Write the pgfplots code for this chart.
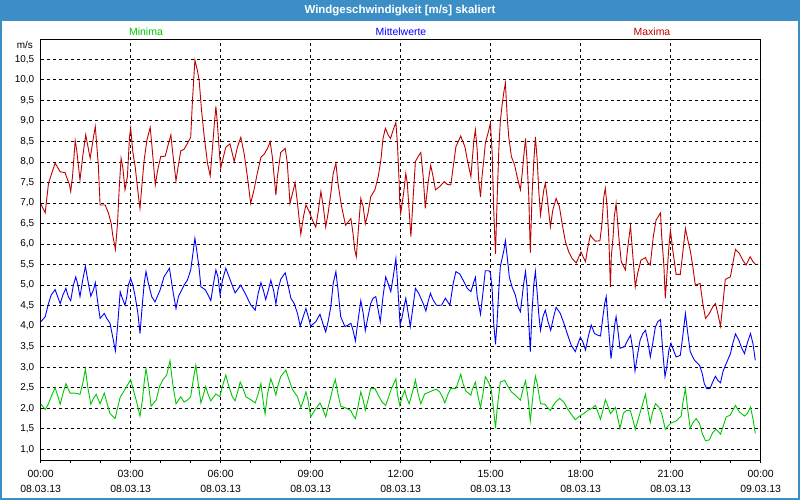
\documentclass[border=0pt]{standalone}
\usepackage{pgfplots}
\usepackage{pgfplotstable}
\pgfplotsset{compat=1.18}
\usepackage{fontspec}
\setmainfont{Liberation Sans}
\definecolor{titleblue}{RGB}{60,143,198}
\definecolor{mingreen}{RGB}{0,200,0}
\definecolor{meanblue}{RGB}{0,0,255}
\definecolor{maxred}{RGB}{192,0,0}

\pgfplotstableread{
h v
0.01 6.97
0.15 6.76
0.26 7.48
0.35 7.68
0.48 7.97
0.65 7.76
0.81 7.74
0.96 7.44
1.00 7.28
1.06 7.64
1.15 8.52
1.20 8.29
1.31 7.56
1.40 8.13
1.50 8.66
1.65 8.09
1.76 8.61
1.82 8.86
1.92 7.93
1.98 6.95
2.15 6.95
2.26 6.75
2.35 6.50
2.40 6.22
2.49 5.87
2.56 6.50
2.62 7.40
2.68 8.09
2.74 7.85
2.81 7.32
2.85 7.48
2.89 7.64
2.96 8.61
3.00 8.82
3.07 8.25
3.15 7.88
3.26 7.15
3.31 6.87
3.37 7.40
3.45 8.05
3.54 8.53
3.65 8.84
3.71 8.37
3.82 7.44
3.90 7.80
4.00 8.13
4.15 8.14
4.26 8.45
4.34 8.66
4.39 8.29
4.51 7.54
4.58 7.88
4.67 8.27
4.78 8.31
4.89 8.45
5.00 8.60
5.06 9.51
5.14 10.48
5.22 10.24
5.28 10.00
5.36 9.27
5.45 8.62
5.56 7.97
5.65 7.66
5.72 8.29
5.78 8.86
5.84 9.35
5.89 8.94
5.95 8.29
6.00 7.85
6.08 8.09
6.17 8.36
6.31 8.44
6.45 8.01
6.56 8.37
6.67 8.60
6.78 8.21
6.89 7.64
7.00 6.99
7.11 7.32
7.22 7.72
7.34 8.11
7.45 8.19
7.56 8.33
7.65 8.49
7.72 8.13
7.84 7.19
7.89 7.64
8.00 8.23
8.15 8.33
8.22 7.97
8.31 6.99
8.39 7.23
8.48 7.49
8.56 6.99
8.67 6.24
8.76 6.67
8.84 6.95
8.95 6.79
9.06 6.58
9.17 6.41
9.25 6.79
9.34 7.28
9.42 6.91
9.50 6.42
9.58 6.75
9.67 7.23
9.75 7.72
9.84 7.97
9.91 7.48
10.02 6.95
10.16 6.46
10.25 6.54
10.34 6.62
10.41 6.26
10.47 5.85
10.52 5.69
10.60 6.46
10.67 7.11
10.75 6.91
10.82 6.49
10.91 6.75
11.00 7.15
11.14 7.32
11.25 7.64
11.34 8.05
11.41 8.57
11.49 8.82
11.58 8.66
11.66 8.57
11.75 8.78
11.84 8.96
11.89 8.45
11.95 7.48
11.97 6.99
12.00 6.75
12.05 6.99
12.11 7.32
12.17 7.72
12.22 7.48
12.28 6.83
12.34 6.18
12.41 7.07
12.49 8.01
12.58 8.13
12.67 8.23
12.75 7.64
12.82 6.87
12.91 7.48
13.00 7.92
13.08 7.64
13.16 7.32
13.30 7.40
13.45 7.52
13.56 7.45
13.67 7.44
13.75 7.88
13.84 8.37
14.00 8.63
14.14 8.37
14.22 8.05
14.34 7.64
14.38 8.01
14.44 8.53
14.49 8.78
14.55 8.29
14.60 7.56
14.66 7.15
14.71 7.64
14.77 8.05
14.82 8.45
14.91 8.70
14.99 8.94
15.05 8.21
15.10 6.83
15.16 5.76
15.21 6.99
15.27 8.29
15.32 8.98
15.38 9.39
15.44 9.71
15.49 9.92
15.55 9.10
15.60 8.62
15.69 8.13
15.80 7.92
15.88 7.64
15.99 7.32
16.05 7.72
16.10 8.13
16.16 8.57
16.21 8.05
16.27 7.15
16.32 5.79
16.38 7.23
16.44 8.05
16.49 8.61
16.55 8.05
16.60 7.32
16.66 6.71
16.71 6.99
16.77 7.32
16.82 7.48
16.88 7.15
16.99 6.42
17.07 6.83
17.18 7.11
17.29 6.91
17.38 6.50
17.49 6.06
17.60 5.81
17.71 5.65
17.85 5.54
17.94 5.69
18.01 5.81
18.08 5.69
18.16 5.57
18.22 5.85
18.32 6.22
18.40 6.14
18.49 6.07
18.64 6.08
18.71 6.50
18.77 7.15
18.82 7.36
18.88 6.91
18.94 6.10
18.99 4.96
19.02 5.69
19.08 6.18
19.12 6.67
19.18 6.99
19.27 6.18
19.35 5.57
19.49 5.37
19.57 5.93
19.66 6.44
19.74 5.69
19.82 4.96
19.90 5.29
20.01 5.61
20.16 5.67
20.24 5.54
20.32 5.49
20.42 6.18
20.51 6.58
20.66 6.76
20.70 6.18
20.77 5.51
20.82 4.68
20.87 5.21
20.94 5.93
20.99 6.34
21.07 5.85
21.18 5.26
21.32 5.26
21.40 5.77
21.49 6.38
21.57 6.10
21.65 5.85
21.74 5.44
21.82 5.00
21.98 5.04
22.07 4.55
22.16 4.19
22.29 4.31
22.40 4.47
22.49 4.55
22.57 4.31
22.66 4.00
22.74 4.55
22.82 5.14
22.99 5.20
23.07 5.53
23.16 5.87
23.29 5.77
23.40 5.61
23.51 5.49
23.65 5.69
23.74 5.57
23.82 5.51
}\maxtable

\pgfplotstableread{
h v
0.01 4.11
0.15 4.23
0.26 4.55
0.35 4.76
0.48 4.89
0.65 4.55
0.74 4.76
0.84 4.92
0.92 4.72
1.00 4.62
1.09 5.00
1.17 5.20
1.24 5.00
1.31 4.72
1.40 5.12
1.49 5.46
1.57 5.12
1.67 4.73
1.76 4.89
1.82 5.06
1.89 4.64
1.98 4.19
2.12 4.31
2.20 4.19
2.31 4.07
2.40 3.74
2.49 3.40
2.56 3.98
2.65 4.84
2.70 4.72
2.81 4.51
2.87 4.72
2.92 5.00
3.00 5.16
3.07 5.00
3.15 4.72
3.24 4.31
3.31 3.82
3.39 4.55
3.45 5.04
3.51 5.33
3.59 5.04
3.70 4.72
3.81 4.59
3.98 4.88
4.11 5.20
4.29 5.41
4.42 4.80
4.51 4.43
4.59 4.72
4.70 4.88
4.78 5.00
4.89 5.12
5.00 5.37
5.06 5.69
5.14 6.14
5.20 5.85
5.28 5.41
5.34 4.96
5.48 4.89
5.58 4.76
5.67 4.62
5.76 5.04
5.84 5.37
5.91 5.20
5.98 4.76
6.06 5.12
6.17 5.41
6.34 5.08
6.48 4.81
6.67 5.00
6.84 4.76
7.00 4.52
7.15 4.39
7.25 4.80
7.34 5.06
7.42 4.88
7.50 4.65
7.59 4.88
7.67 5.12
7.76 4.88
7.84 4.54
7.91 4.88
8.00 5.14
8.15 5.30
8.22 5.08
8.34 4.68
8.45 4.55
8.56 4.31
8.65 4.00
8.75 4.23
8.84 4.43
8.92 4.23
9.00 4.00
9.17 4.11
9.31 4.29
9.42 4.03
9.50 3.86
9.58 4.11
9.67 4.47
9.75 5.04
9.84 5.33
9.91 4.88
10.00 4.23
10.14 3.99
10.25 4.03
10.34 4.07
10.41 3.90
10.49 3.64
10.58 4.15
10.67 4.62
10.75 4.31
10.82 3.89
10.91 4.23
11.00 4.55
11.08 4.68
11.17 4.72
11.25 4.39
11.32 4.11
11.41 4.72
11.50 5.20
11.58 5.04
11.67 4.84
11.75 5.20
11.84 5.65
11.89 5.12
11.95 4.39
11.98 4.03
12.05 4.23
12.11 4.47
12.17 4.68
12.25 4.31
12.32 3.99
12.41 4.47
12.49 4.92
12.60 4.80
12.75 4.55
12.84 4.37
12.91 4.59
12.99 4.80
13.08 4.64
13.19 4.51
13.36 4.51
13.49 4.68
13.64 4.51
13.75 5.04
13.84 5.33
13.97 5.27
14.08 5.12
14.22 4.92
14.34 4.84
14.44 5.08
14.49 5.19
14.55 4.72
14.66 4.29
14.74 4.80
14.82 5.35
14.94 5.35
14.99 5.30
15.05 4.88
15.10 4.07
15.16 3.56
15.21 4.07
15.27 4.88
15.32 5.45
15.44 5.85
15.49 6.08
15.55 5.69
15.62 5.20
15.71 4.96
15.82 4.76
15.91 4.47
15.99 4.35
16.05 4.72
16.10 5.04
16.16 5.33
16.21 4.96
16.27 4.07
16.32 3.38
16.38 4.39
16.44 5.04
16.49 5.33
16.55 4.80
16.60 4.31
16.66 3.90
16.74 4.23
16.82 4.39
16.91 4.11
17.00 3.90
17.10 4.23
17.18 4.46
17.32 4.31
17.44 4.07
17.55 3.82
17.68 3.54
17.82 3.38
17.91 3.58
17.99 3.73
18.07 3.62
18.16 3.42
18.25 3.74
18.35 4.03
18.46 3.82
18.57 3.78
18.66 3.76
18.74 4.23
18.80 4.55
18.85 4.72
18.90 4.23
18.96 3.66
19.01 3.21
19.07 3.58
19.14 4.07
19.18 4.23
19.24 3.90
19.31 3.46
19.46 3.50
19.57 3.66
19.66 3.78
19.74 3.42
19.81 2.91
19.90 3.33
19.98 3.66
20.07 3.82
20.16 3.90
20.24 3.62
20.32 3.25
20.40 3.58
20.49 3.98
20.57 4.11
20.66 4.16
20.70 3.74
20.76 3.17
20.81 2.77
20.87 3.01
20.94 3.42
21.01 3.58
21.09 3.42
21.18 3.25
21.32 3.29
21.40 3.74
21.49 4.31
21.57 3.82
21.65 3.38
21.79 3.17
21.96 3.05
22.05 2.85
22.12 2.60
22.20 2.48
22.31 2.48
22.40 2.64
22.49 2.78
22.57 2.68
22.66 2.62
22.74 2.89
22.85 3.09
22.99 3.33
23.07 3.58
23.16 3.81
23.27 3.66
23.37 3.46
23.46 3.33
23.55 3.58
23.66 3.82
23.74 3.58
23.82 3.17
}\meantable

\pgfplotstableread{
h v
0.01 2.10
0.15 1.97
0.26 2.11
0.37 2.32
0.48 2.50
0.56 2.32
0.65 2.10
0.74 2.35
0.84 2.60
0.98 2.37
1.15 2.37
1.31 2.34
1.40 2.60
1.49 2.96
1.57 2.51
1.67 2.10
1.76 2.24
1.85 2.34
1.98 2.11
2.12 2.37
2.20 2.15
2.31 1.87
2.48 1.75
2.57 2.03
2.65 2.27
2.76 2.40
2.89 2.56
3.00 2.70
3.09 2.44
3.20 2.15
3.31 1.81
3.39 2.20
3.45 2.64
3.51 2.96
3.59 2.60
3.68 2.05
3.85 2.20
3.96 2.53
4.07 2.69
4.20 2.81
4.31 3.16
4.40 2.60
4.51 2.11
4.67 2.28
4.78 2.15
4.89 2.20
5.00 2.28
5.09 2.72
5.17 3.05
5.25 2.60
5.34 2.13
5.42 2.32
5.50 2.53
5.58 2.34
5.67 2.18
5.84 2.35
5.97 2.28
6.06 2.54
6.17 2.81
6.26 2.56
6.39 2.28
6.48 2.18
6.58 2.44
6.65 2.64
6.72 2.53
6.84 2.28
7.00 2.21
7.15 2.13
7.25 2.35
7.34 2.60
7.41 2.20
7.48 1.86
7.56 2.35
7.67 2.72
7.76 2.53
7.84 2.32
7.91 2.56
8.00 2.77
8.17 2.93
8.28 2.69
8.39 2.46
8.56 2.28
8.67 2.02
8.76 2.20
8.84 2.40
8.91 2.20
9.00 1.79
9.15 1.97
9.31 2.13
9.42 1.95
9.50 1.79
9.58 2.02
9.67 2.28
9.75 2.53
9.82 2.70
9.91 2.35
10.00 2.05
10.19 2.00
10.34 1.94
10.41 1.83
10.49 1.75
10.58 2.05
10.67 2.40
10.75 2.20
10.82 1.95
10.91 2.20
11.00 2.48
11.14 2.48
11.25 2.32
11.38 2.15
11.50 2.07
11.58 2.24
11.69 2.48
11.77 2.60
11.84 2.72
11.89 2.35
11.97 2.07
12.05 2.28
12.14 2.44
12.19 2.28
12.28 2.11
12.41 2.44
12.49 2.69
12.58 2.35
12.67 2.11
12.80 2.35
12.97 2.40
13.08 2.44
13.19 2.46
13.30 2.40
13.39 2.28
13.47 2.13
13.58 2.35
13.67 2.48
13.84 2.48
13.94 2.69
14.00 2.83
14.08 2.60
14.17 2.42
14.34 2.32
14.38 2.44
14.49 2.64
14.58 2.28
14.66 2.02
14.74 2.35
14.82 2.77
14.94 2.62
15.02 2.44
15.10 1.95
15.16 1.51
15.21 1.95
15.32 2.64
15.47 2.68
15.55 2.56
15.69 2.40
15.82 2.32
15.99 2.20
16.07 2.44
16.16 2.67
16.24 2.28
16.32 1.69
16.38 2.11
16.44 2.53
16.49 2.78
16.55 2.60
16.66 2.11
16.80 2.10
16.88 2.03
16.99 1.95
17.07 2.05
17.16 2.15
17.30 2.24
17.44 2.15
17.55 2.00
17.68 1.86
17.82 1.72
17.96 1.81
18.10 1.87
18.24 1.95
18.38 2.00
18.49 2.07
18.57 1.91
18.66 1.73
18.74 1.95
18.82 2.21
18.88 2.11
18.99 1.87
19.16 2.02
19.31 1.51
19.42 1.87
19.51 1.94
19.65 1.95
19.74 1.72
19.82 1.49
19.94 1.79
20.05 2.07
20.16 2.34
20.24 1.95
20.32 1.65
20.40 1.91
20.49 2.11
20.60 2.03
20.70 1.87
20.82 1.49
20.94 1.59
21.01 1.64
21.18 1.69
21.35 1.81
21.40 2.11
21.49 2.48
21.57 1.95
21.65 1.51
21.74 1.65
21.85 1.75
21.96 1.63
22.05 1.39
22.16 1.21
22.29 1.23
22.40 1.41
22.51 1.49
22.66 1.37
22.74 1.54
22.85 1.79
22.98 1.83
23.07 1.95
23.16 2.07
23.29 1.91
23.46 1.81
23.55 1.87
23.66 2.03
23.74 1.75
23.82 1.39
}\mintable

\begin{document}
\begin{tikzpicture}
\useasboundingbox (0bp,0bp) rectangle (800bp,500bp);
\fill[white] (0bp,0bp) rectangle (800bp,500bp);
\fill[titleblue] (0bp,479bp) rectangle (800bp,500bp);
\draw[titleblue, line width=2bp] (1bp,1bp) rectangle (799bp,499bp);
\node[text=white, font=\bfseries\fontsize{11.5}{13}\selectfont] at (400bp,489.5bp) {Windgeschwindigkeit [m/s] skaliert};
\node[text=mingreen, font=\fontsize{10.5}{12}\selectfont] at (146bp,468.5bp) {Minima};
\node[text=meanblue, font=\fontsize{10.5}{12}\selectfont] at (401bp,468.5bp) {Mittelwerte};
\node[text=maxred, font=\fontsize{10.5}{12}\selectfont] at (652bp,468.5bp) {Maxima};
\begin{axis}[
  name=ax,
  at={(40.7bp,40bp)}, anchor=south west,
  scale only axis, width=720bp, height=420bp,
  xmin=0, xmax=24, ymin=0.74, ymax=10.97,
  axis line style={black, line width=1bp},
  xtick={0,3,...,24},
  xticklabels={{00:00\\08.03.13},{03:00\\08.03.13},{06:00\\08.03.13},{09:00\\08.03.13},{12:00\\08.03.13},{15:00\\08.03.13},{18:00\\08.03.13},{21:00\\08.03.13},{00:00\\09.03.13}},
  minor xtick={1,2,4,5,7,8,10,11,13,14,16,17,19,20,22,23},
  xtick pos=bottom, tick align=outside,
  major tick length=3bp, minor tick length=3bp,
  every tick/.style={black, line width=0.8bp},
  xticklabel style={align=center, font=\fontsize{10.5}{15}\selectfont, yshift=-4bp},
  ytick={1,1.5,...,10.5},
  ytick pos=left,
  ytick style={draw=none},
  yticklabel style={font=\fontsize{10}{11}\selectfont, /pgf/number format/.cd, fixed, fixed zerofill, precision=1, use comma, assume math mode=true},
  xmajorgrids, ymajorgrids,
  major grid style={black, line width=0.8bp, dash pattern=on 3bp off 3bp},
]
\addplot[maxred, line width=0.9bp] table[x=h, y=v] {\maxtable};
\addplot[meanblue, line width=0.9bp] table[x=h, y=v] {\meantable};
\addplot[mingreen, line width=0.9bp] table[x=h, y=v] {\mintable};
\end{axis}
\node[anchor=east, font=\fontsize{10}{11}\selectfont, inner sep=0pt] at ([xshift=-7.7bp, yshift=-5bp]ax.north west) {m/s};
\end{tikzpicture}
\end{document}
